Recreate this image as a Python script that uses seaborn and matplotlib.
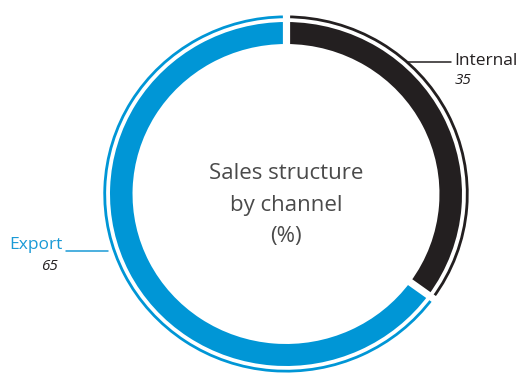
import numpy as np
import matplotlib
matplotlib.use("Agg")
import matplotlib.pyplot as plt
import seaborn as sns

# Sales structure by channel, in percent
channels = ["Internal", "Export"]
shares = [35, 65]
ring_colors = ["#231f20", "#0096d6"]
label_colors = ["#231f20", "#1a9ad6"]
title_lines = ["Sales structure", "by channel", "(%)"]

sns.set_theme(style="white")
plt.rcParams["font.family"] = ["Open Sans", "DejaVu Sans"]

W, H = 518, 377
fig = plt.figure(figsize=(W / 100, H / 100), dpi=100)
ax = fig.add_axes([0, 0, 1, 1])

# ring centre and radii in pixels
cx, cy = 286, 194
rx, ry = 176, 172


def px(x):
    return (x - cx) / rx


def py(y):
    return (cy - y) / ry


# main thick ring
ax.pie(shares, colors=ring_colors, startangle=90, counterclock=False,
       radius=1.0, wedgeprops=dict(width=0.128, linewidth=0))
# thin outer ring
ax.pie(shares, colors=ring_colors, startangle=90, counterclock=False,
       radius=1.038, wedgeprops=dict(width=0.016, linewidth=0))

# white separators at the slice boundaries
bounds = np.cumsum([0] + shares[:-1]) / sum(shares) * 2 * np.pi
for a in bounds:
    r = np.array([0.8, 1.1])
    ax.plot(r * np.sin(a), r * np.cos(a), color="white", lw=5.2,
            solid_capstyle="butt", zorder=5)

ax.set_xlim(px(0), px(W))
ax.set_ylim(py(H), py(0))
ax.set_aspect("auto")
ax.axis("off")

# centre caption
ax.text(px(286), py(205), "\n".join(title_lines), ha="center", va="center",
        fontsize=16, color="#4a4a4a", linespacing=1.68)

# Internal label
ax.plot([px(408), px(451)], [py(62), py(62)], color=label_colors[0], lw=1.1)
ax.text(px(454), py(61), channels[0], ha="left", va="center",
        fontsize=12.5, color=label_colors[0])
ax.text(px(455), py(80), f"{shares[0]}", ha="left", va="center",
        fontsize=11, style="italic", color="#231f20")

# Export label
ax.plot([px(66), px(108)], [py(251), py(251)], color=label_colors[1], lw=1.1)
ax.text(px(63), py(245), channels[1], ha="right", va="center",
        fontsize=12.5, color=label_colors[1])
ax.text(px(58), py(266), f"{shares[1]}", ha="right", va="center",
        fontsize=11, style="italic", color="#231f20")

fig.savefig("out.png", dpi=100)
